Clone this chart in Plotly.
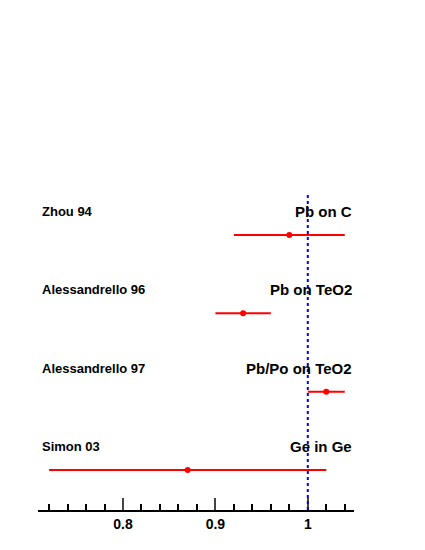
import plotly.graph_objects as go

names = ["Zhou 94", "Alessandrello 96", "Alessandrello 97", "Simon 03"]
targets = ["Pb on C", "Pb on TeO2", "Pb/Po on TeO2", "Ge in Ge"]
values = [0.98, 0.93, 1.02, 0.87]
err_lo = [0.06, 0.03, 0.02, 0.15]
err_hi = [0.06, 0.03, 0.02, 0.15]
ypos = [4, 3, 2, 1]

fig = go.Figure()
fig.add_trace(go.Scatter(x=values, y=ypos, mode="markers",
    marker=dict(color="red", size=6),
    error_x=dict(type="data", symmetric=False, array=err_hi, arrayminus=err_lo,
                 color="red", thickness=2, width=0)))
fig.add_shape(type="line", x0=1, x1=1, y0=0.49, y1=4.51, xref="x", yref="y",
              line=dict(color="blue", width=2, dash="dot"))
for n, t, y in zip(names, targets, ypos):
    fig.add_annotation(x=0.005, xref="paper", y=y + 0.3, yref="y", text="<b>" + n + "</b>", showarrow=False,
                       xanchor="left", font=dict(family="Liberation Sans", size=13, color="black"))
    fig.add_annotation(x=1.0, xref="paper", y=y + 0.3, yref="y", text="<b>" + t + "</b>", showarrow=False,
                       xanchor="right", font=dict(family="Liberation Sans", size=15, color="black"))
fig.update_layout(width=425, height=550, margin=dict(l=30, r=79, t=187, b=48),
    plot_bgcolor="white", paper_bgcolor="white", showlegend=False,
    font=dict(family="Liberation Sans", size=14, color="black"),
    xaxis=dict(range=[0.708, 1.05], tickvals=[0.8, 0.9, 1.0], ticktext=["<b>0.8</b>", "<b>0.9</b>", "<b>1</b>"],
               ticks="inside", ticklen=12, tickwidth=1.5, showgrid=False, zeroline=False,
               showline=True, linecolor="black", linewidth=1.5,
               tickfont=dict(size=14, family="Liberation Sans"),
               minor=dict(dtick=0.02, ticks="inside", ticklen=6, tickcolor="black", showgrid=False)),
    yaxis=dict(range=[0.49, 4.51], visible=False))
fig.write_html("out.html")
